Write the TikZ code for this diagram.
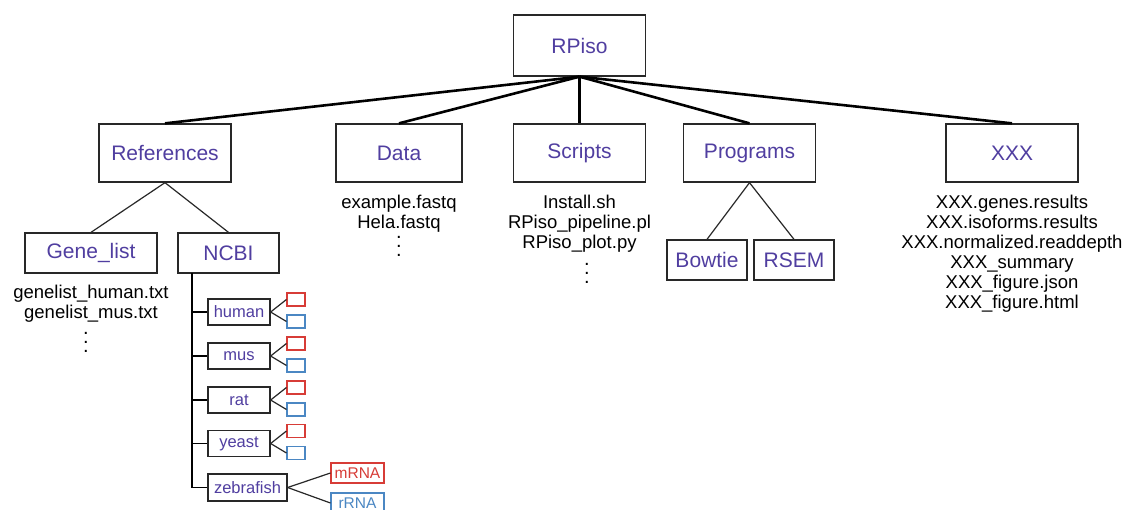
\documentclass[tikz,border=0pt]{standalone}
\usepackage{fontspec}
\setmainfont{Liberation Sans}
\definecolor{lbl}{RGB}{80,62,160}
\definecolor{redb}{RGB}{215,60,55}
\definecolor{blueb}{RGB}{75,135,195}
\definecolor{edge}{RGB}{40,40,40}
\begin{document}
\begin{tikzpicture}[x=1pt,y=-1pt,
  bigbox/.style={draw=edge,line width=1.3pt,inner sep=0pt,text=lbl,font=\fontsize{21}{24}\selectfont,minimum width=132,minimum height=58},
  midbox/.style={draw=edge,line width=1.3pt,inner sep=0pt,text=lbl,font=\fontsize{21}{24}\selectfont,minimum height=40},
  subbox/.style={draw=edge,line width=1.3pt,inner sep=0pt,text=lbl,font=\fontsize{16.5}{18}\selectfont,minimum height=26},
  redbox/.style={draw=redb,line width=1.1pt,inner sep=0pt,minimum width=18,minimum height=13},
  bluebox/.style={draw=blueb,line width=1.1pt,inner sep=0pt,minimum width=18,minimum height=13},
  rnabox/.style={draw=#1,text=#1,line width=1.1pt,inner sep=0pt,minimum width=53,minimum height=20,font=\fontsize{15.5}{17}\selectfont},
  files/.style={anchor=north,inner sep=0pt,align=center,font=\fontsize{18.5}{20}\selectfont},
  dots/.style={anchor=north,inner sep=0pt,align=center,font=\fontsize{20}{9}\selectfont},
  thick1/.style={line width=2.6pt,draw=black},
  thin1/.style={line width=1.2pt,draw=edge}]
\useasboundingbox (0,0) rectangle (1135,509);
\clip (0,0) rectangle (1135,509);
\fill[white] (0,0) rectangle (1135,509);

% top level
\node[bigbox,minimum height=61] (rpiso) at (579.5,45.5) {RPiso};
\node[bigbox] (refs) at (165,153) {References};
\node[bigbox,minimum width=126] (data) at (399,153) {Data};
\node[bigbox] (scripts) at (579.5,153) {Scripts};
\node[bigbox] (progs) at (749.5,153) {Programs};
\node[bigbox] (xxx) at (1012,153) {XXX};

\foreach \n in {refs,data,scripts,progs,xxx}
  \draw[thick1] (rpiso.south) -- (\n.north);

% references children
\node[midbox,minimum width=132] (genelist) at (91,253) {Gene\_list};
\node[midbox,minimum width=101] (ncbi) at (228.5,253) {NCBI};
\draw[thin1] (refs.south) -- (genelist.north);
\draw[thin1] (refs.south) -- (ncbi.north);

\node[files] (glfiles) at (91,284.5) {genelist\_human.txt\\genelist\_mus.txt};
\node[dots] (gldots) at (86,332) {.\\.\\.};

% NCBI species
\node[subbox,minimum width=62] (human) at (239,312) {human};
\node[subbox,minimum width=62] (mus) at (239,356) {mus};
\node[subbox,minimum width=62] (rat) at (239,400) {rat};
\node[subbox,minimum width=62] (yeast) at (239,443.5) {yeast};
\node[subbox,minimum width=79,minimum height=27] (zebra) at (247.5,487.5) {zebrafish};

\coordinate (trunk) at (192,273);
\draw[line width=1.8pt,draw=black] (trunk) -- (trunk |- zebra.west);
\foreach \n in {human,mus,rat,yeast,zebra}
  \draw[line width=1.4pt,draw=black] (trunk |- \n.west) -- (\n.west);

\foreach \n in {human,mus,rat,yeast}{
  \node[redbox] (\n r) at ([xshift=57pt,yshift=12.5pt]\n.center) {};
  \node[bluebox] (\n b) at ([xshift=57pt,yshift=-9.5pt]\n.center) {};
  \draw[thin1] (\n.east) -- (\n r.west);
  \draw[thin1] (\n.east) -- (\n b.west);
}
\node[rnabox=redb] (mrna) at (357.5,473) {mRNA};
\node[rnabox=blueb] (rrna) at (357.5,503) {rRNA};
\draw[thin1] (zebra.east) -- (mrna.west);
\draw[thin1] (zebra.east) -- (rrna.west);

% data / scripts files
\node[files] (datafiles) at (399,194.5) {example.fastq\\Hela.fastq};
\node[dots] (datadots) at (399,236) {.\\.\\.};
\node[files] (scriptfiles) at (579.5,194.5) {Install.sh\\RPiso\_pipeline.pl\\RPiso\_plot.py};
\node[dots] (scriptdots) at (587,263) {.\\.\\.};

% programs children
\node[midbox,minimum width=80] (bowtie) at (707,260) {Bowtie};
\node[midbox,minimum width=80] (rsem) at (794,260) {RSEM};
\draw[thin1] (progs.south) -- (bowtie.north);
\draw[thin1] (progs.south) -- (rsem.north);

% XXX files
\node[files] (xxxfiles) at (1012,194.5) {XXX.genes.results\\XXX.isoforms.results\\XXX.normalized.readdepth\\XXX\_summary\\XXX\_figure.json\\XXX\_figure.html};
\end{tikzpicture}
\end{document}
